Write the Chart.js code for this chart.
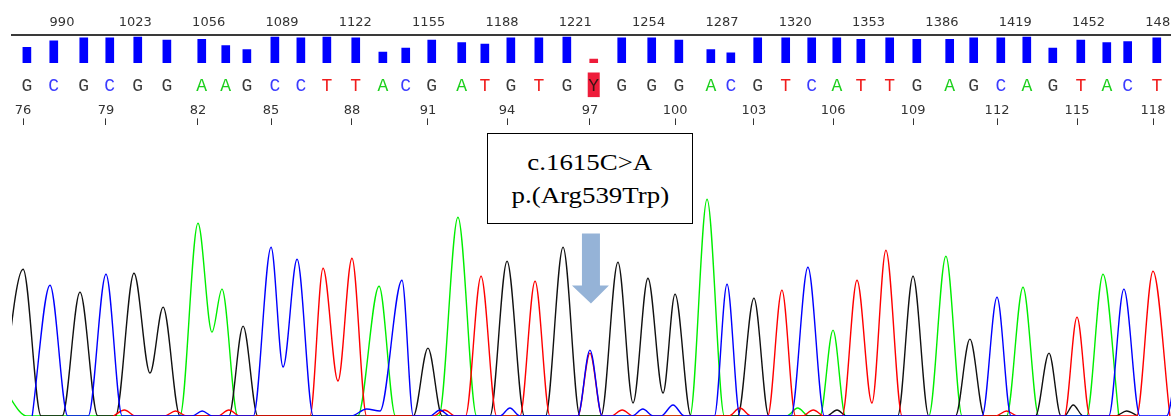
<!DOCTYPE html>
<html lang="en">
<head>
<meta charset="UTF-8">
<title>Sequence trace c.1615C>A</title>
<script src="https://cdn.jsdelivr.net/npm/chart.js"></script>
<style>
  body { margin: 0; background: #fff; }
  #wrap { position: relative; width: 1171px; height: 418px; overflow: hidden; background: #fff; }
  canvas { position: absolute; left: 0; }
  #calls { top: 0; }
  #trace { top: 97px; }
  #note {
    position: absolute; left: 487px; top: 133px; width: 206px; height: 91px;
    box-sizing: border-box; border: 1.5px solid #000; background: #fff;
    font-family: "Liberation Serif", serif; font-size: 24px; line-height: 33px;
    text-align: center; padding-top: 12px; color: #000;
  }
  #note span { display: inline-block; transform: scaleX(1.12); }
</style>
</head>
<body>
<div id="wrap">
  <canvas id="calls" width="1171" height="102"></canvas>
  <canvas id="trace" width="1171" height="321"></canvas>
  <div id="note"><span>c.1615C&gt;A</span><br><span>p.(Arg539Trp)</span></div>
</div>
<script>
// trace positions visible in the window
const scanMin = 969.4;
const scanMax = 1491;
const labelShift = 1.9;  // scan numbers are printed slightly right of the trace grid
const callShift = 1.7;   // base letters and bars sit a little right of the peaks
const scanTicks = [990, 1023, 1056, 1089, 1122, 1155, 1188, 1221, 1254, 1287, 1320, 1353, 1386, 1419, 1452, 1485];

// base calls 76..118
const firstBase = 76;
const baseCalls = ['G','C','G','C','G','G','A','A','G','C','C','T','T','A','C','G','A','T','G','T','G','Y',
                   'G','G','G','A','C','G','T','C','A','T','T','G','A','G','C','A','G','T','A','C','T'];
const basePos = [974.4, 986.5, 1000.0, 1011.7, 1024.3, 1037.4, 1053.1, 1063.9, 1073.4, 1086.0, 1097.7,
                 1109.4, 1122.4, 1134.6, 1144.9, 1156.6, 1170.1, 1180.5, 1192.2, 1204.8, 1217.4, 1229.5,
                 1242.1, 1255.6, 1267.8, 1282.2, 1291.2, 1303.3, 1315.9, 1327.6, 1338.9, 1349.7, 1362.7,
                 1374.9, 1389.7, 1400.5, 1412.7, 1424.4, 1436.1, 1448.7, 1460.4, 1469.8, 1482.9];
const quality = [20, 28, 32, 32, 33, 29, 30, 22, 17, 33, 32, 33, 32, 14, 19, 29, 26, 24, 32, 32, 33, 5,
                 32, 32, 29, 17, 13, 32, 32, 32, 32, 30, 32, 30, 30, 32, 32, 33, 19, 29, 26, 27, 32];
const posTicks = [76, 79, 82, 85, 88, 91, 94, 97, 100, 103, 106, 109, 112, 115, 118];
const markBase = 97;

// trace points [position, signal]: peaks, valleys and where each trace meets the baseline
const traceG = [[964,0],[974.4,147],[982.5,0],[992,0],[1000,124],[1008,0],
  [1016,0],[1024.3,143],[1031.5,43],[1037.4,109],[1045,0],[1067,0],[1073.4,90],[1080,0],
  [1150,0],[1156.6,68],[1163,0],[1184.5,0],[1192.2,155],[1200,0],[1209.5,0],[1217.4,169],[1225,0],
  [1234.5,0],[1242.1,154],[1248.9,13],[1255.6,138],[1262.4,23],[1267.8,122],[1275,0],
  [1296,0],[1303.3,118],[1310,0],[1336,0],[1340.7,6],[1345,0],[1368,0],[1374.9,140],[1382,0],
  [1394,0],[1400.5,77],[1407,0],[1430,0],[1436.1,63],[1441.5,0],[1443,0],[1447,11],[1451.5,0],
  [1466,0],[1471,5],[1476,0]];
const traceC = [[978.5,0],[986.5,131],[994.5,0],[1003.7,0],[1011.7,142],[1019,0],
  [1050.5,0],[1055,5],[1059.5,0],[1078,0],[1086,169],[1091.4,49],[1097.7,157],[1105,0],
  [1122,0],[1129,7],[1135,5],[1144.9,136],[1150,0],[1157.5,0],[1162,6],[1166.5,0],
  [1189,0],[1193.5,8],[1198,0],[1224,0],[1229.5,66],[1235,0],[1248.5,0],[1253.3,7],[1258,0],
  [1261.5,0],[1266.9,11],[1272,0],[1285.5,0],[1291.2,132],[1297,0],[1320,0],[1327.6,149],[1335,0],
  [1406,0],[1412.7,119],[1419,0],[1463,0],[1469.8,127],[1477,0],[1489,0],[1497,130]];
const traceA = [[955,0],[963,30],[976,0],[1045,0],[1053.1,193],[1059.4,84],[1063.9,127],[1071,0],
  [1125,0],[1134.6,130],[1142,0],[1161.5,0],[1170.1,199],[1178.5,0],[1274.5,0],[1282.2,217],[1290,0],
  [1318,0],[1323,8],[1328,0],[1333,0],[1338.9,86],[1344.5,0],[1382,0],[1389.7,160],[1397,0],
  [1417,0],[1424.4,129],[1431.5,0],[1453,0],[1460.4,142],[1467.5,0]];
const traceT = [[1015,0],[1020,6],[1025,0],[1038,0],[1043,5],[1048,0],[1062,0],[1067,6],[1072,0],
  [1103.5,0],[1109.4,148],[1116.1,35],[1122.4,158],[1129,0],[1159,0],[1164,6],[1169,0],
  [1173.5,0],[1180.5,140],[1187.5,0],[1198,0],[1204.8,135],[1211.5,0],[1224,0],[1229.5,63],[1235,0],
  [1239,0],[1244,6],[1249,0],[1292,0],[1297,8],[1302,0],[1309.5,0],[1315.9,126],[1322,0],
  [1325,0],[1330,6],[1335,0],[1343,0],[1349.7,136],[1356.4,13],[1362.7,166],[1370,0],
  [1412,0],[1417,5],[1422,0],[1443,0],[1448.7,99],[1454.5,0],[1475.5,0],[1482.9,145],[1490.5,0]];

const callColor = { G: '#3c3c3c', C: '#3b3bff', A: '#1ccf1c', T: '#f01c1c', Y: '#3a1414' };
const mixRed = '#ee1c3a';

const noPad = a => { a.paddingLeft = 0; a.paddingRight = 0; };

// top strip: scan numbers, quality bars, base letters
new Chart(document.getElementById('calls'), {
  type: 'bar',
  data: {
    datasets: [{
      data: basePos.map((x, i) => ({ x: x, y: quality[i] })),
      backgroundColor: ctx => baseCalls[ctx.dataIndex] === 'Y' ? mixRed : '#0000ff',
      barThickness: 8,
      xAxisID: 'x',
      yAxisID: 'y'
    }]
  },
  options: {
    responsive: false,
    animation: false,
    events: [],
    layout: { padding: { left: 12, right: 0, top: 10, bottom: 0.4 } },
    plugins: { legend: { display: false }, tooltip: { enabled: false } },
    scales: {
      xScan: {
        type: 'linear', position: 'top', min: scanMin - labelShift, max: scanMax - labelShift, offset: false,
        afterBuildTicks: a => { a.ticks = scanTicks.map(v => ({ value: v })); },
        afterFit: noPad,
        grid: { display: true, drawOnChartArea: false, drawTicks: false },
        border: { display: true, color: '#3a3a3a', width: 2 },
        ticks: {
          autoSkip: false, maxRotation: 0, minRotation: 0, padding: 4.5, color: '#333',
          font: { family: 'DejaVu Sans', size: 13 },
          callback: v => String(v)
        }
      },
      x: {
        type: 'linear', position: 'bottom', min: scanMin - callShift, max: scanMax - callShift, offset: false,
        afterBuildTicks: a => { a.ticks = basePos.map(v => ({ value: v })); },
        afterFit: noPad,
        grid: { display: false },
        border: { display: false },
        ticks: {
          autoSkip: false, maxRotation: 0, minRotation: 0, padding: 4.5,
          font: { family: 'Liberation Mono', size: 18 },
          color: ctx => callColor[baseCalls[ctx.index]],
          callback: (v, i) => baseCalls[i],
          showLabelBackdrop: true,
          backdropColor: ctx => baseCalls[ctx.index] === 'Y' ? mixRed : 'rgba(0,0,0,0)',
          backdropPadding: { top: 3, bottom: 0, left: 0.6, right: 0.6 }
        }
      },
      y: { display: false, min: 0, max: 36 }
    }
  }
});

// arrow pointing at the mixed peak
const arrowMark = {
  id: 'arrowMark',
  afterDatasetsDraw(chart) {
    const { ctx, chartArea } = chart;
    const cx = chart.scales.x.getPixelForValue(basePos[markBase - firstBase]) + 1;
    const top = chartArea.top + 108;
    ctx.save();
    ctx.fillStyle = '#95b3d7';
    ctx.beginPath();
    ctx.moveTo(cx - 9, top);
    ctx.lineTo(cx + 9, top);
    ctx.lineTo(cx + 9, top + 52);
    ctx.lineTo(cx + 18, top + 52);
    ctx.lineTo(cx, top + 70);
    ctx.lineTo(cx - 19, top + 52);
    ctx.lineTo(cx - 9, top + 52);
    ctx.closePath();
    ctx.fill();
    ctx.restore();
  }
};

function trace(label, pts, color) {
  return {
    label: label,
    data: pts.map(p => ({ x: p[0], y: p[1] })),
    borderColor: color,
    borderWidth: 1.4,
    fill: false,
    pointRadius: 0,
    cubicInterpolationMode: 'monotone'
  };
}

// chromatogram with base positions on top
new Chart(document.getElementById('trace'), {
  type: 'line',
  data: {
    datasets: [
      trace('C', traceC, '#0000ff'),
      trace('T', traceT, '#ff0000'),
      trace('G', traceG, '#111111'),
      trace('A', traceA, '#00ee00')
    ]
  },
  options: {
    responsive: false,
    animation: false,
    events: [],
    layout: { padding: { left: 12, right: 0, top: 5, bottom: 2 } },
    plugins: { legend: { display: false }, tooltip: { enabled: false } },
    scales: {
      x: {
        type: 'linear', position: 'top', min: scanMin, max: scanMax, offset: false,
        afterBuildTicks: a => { a.ticks = posTicks.map(n => ({ value: basePos[n - firstBase] })); },
        afterFit: noPad,
        grid: { display: true, drawOnChartArea: false, drawTicks: true, tickLength: 7, color: '#333', lineWidth: 1 },
        border: { display: false },
        ticks: {
          autoSkip: false, maxRotation: 0, minRotation: 0, padding: 0.4, color: '#333',
          font: { family: 'DejaVu Sans', size: 13 },
          callback: (v, i) => String(posTicks[i])
        }
      },
      y: { display: false, min: 0, max: 291 }
    }
  },
  plugins: [arrowMark]
});
</script>
</body>
</html>
